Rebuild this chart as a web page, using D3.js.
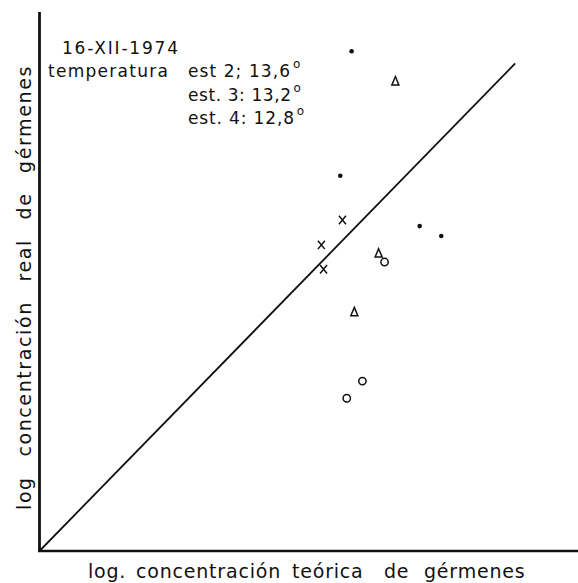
<!DOCTYPE html>
<html>
<head>
<meta charset="utf-8">
<script src="https://cdn.jsdelivr.net/npm/d3@7"></script>
<style>
  body { margin: 0; background: #fff; }
  text { font-family: "DejaVu Sans", sans-serif; fill: #111; }
</style>
</head>
<body>
<svg id="chart" width="578" height="583"></svg>
<script>
// points, in log units
var dotPts = [[5.78, 9.03], [5.57, 6.78], [7.04, 5.87], [7.44, 5.69]];
var triPts = [[6.59, 8.49], [6.28, 5.38], [5.83, 4.32]];
var crossPts = [[5.61, 5.98], [5.22, 5.53], [5.26, 5.09]];
var circPts = [[6.39, 5.22], [5.98, 3.07], [5.69, 2.76]];
var diagEnd = 8.81;
var noteLines = ["16-XII-1974", "temperatura", "est 2; 13,6", "est. 3: 13,2", "est. 4: 12,8"];
var xLabelWords = ["log.", "concentración", "teórica", "de", "gérmenes"];
var yLabel = "log concentración real de gérmenes";

var svg = d3.select("#chart");
var x = d3.scaleLinear().domain([0, 10]).range([39.5, 579.5]);
var y = d3.scaleLinear().domain([0, 10]).range([551, -2.5]);

// axes (plain lines, no ticks)
svg.append("line").attr("x1", x(0)).attr("y1", y(0) + 1).attr("x2", x(0)).attr("y2", y(9.74))
  .attr("stroke", "#111").attr("stroke-width", 2.8);
svg.append("line").attr("x1", x(0) - 1.4).attr("y1", y(0)).attr("x2", x(10)).attr("y2", y(0))
  .attr("stroke", "#111").attr("stroke-width", 2.6);

// 1:1 line
svg.append("path").attr("d", d3.line().x(function(d) { return x(d); }).y(function(d) { return y(d); })([0, diagEnd]))
  .attr("stroke", "#111").attr("stroke-width", 1.8).attr("fill", "none");

// markers
svg.selectAll(".dot").data(dotPts).enter().append("circle").attr("class", "dot")
  .attr("cx", function(d) { return x(d[0]); }).attr("cy", function(d) { return y(d[1]); })
  .attr("r", 2.3).attr("fill", "#111");

svg.selectAll(".circ").data(circPts).enter().append("circle").attr("class", "circ")
  .attr("cx", function(d) { return x(d[0]); }).attr("cy", function(d) { return y(d[1]); })
  .attr("r", 3.7).attr("fill", "none").attr("stroke", "#111").attr("stroke-width", 1.5);

svg.selectAll(".tri").data(triPts).enter().append("path").attr("class", "tri")
  .attr("transform", function(d) { return "translate(" + x(d[0]) + "," + y(d[1]) + ")"; })
  .attr("d", "M0,-4.5L3.5,3.8L-3.5,3.8Z")
  .attr("fill", "none").attr("stroke", "#111").attr("stroke-width", 1.5);

svg.selectAll(".cross").data(crossPts).enter().append("path").attr("class", "cross")
  .attr("transform", function(d) { return "translate(" + x(d[0]) + "," + y(d[1]) + ")"; })
  .attr("d", "M-3.5,-4.2L3.5,4.2M3.5,-4.2L-3.5,4.2")
  .attr("fill", "none").attr("stroke", "#111").attr("stroke-width", 1.5);

// annotation
var note = svg.append("g").attr("font-size", 17);
note.append("text").attr("x", 62).attr("y", 54).attr("textLength", 116)
  .attr("lengthAdjust", "spacing").text(noteLines[0]);
note.append("text").attr("x", 48).attr("y", 77).attr("textLength", 120)
  .attr("lengthAdjust", "spacing").text(noteLines[1]);
var ends = [290, 291, 294];
[2, 3, 4].forEach(function(i, k) {
  var t = note.append("text").attr("x", 188).attr("y", 77 + k * 23.5);
  t.append("tspan").attr("textLength", ends[k] - 188).attr("lengthAdjust", "spacing").text(noteLines[i]);
  t.append("tspan").attr("dx", 2).attr("dy", -9).attr("font-size", 12).text("o");
});

// axis titles (the original has wide, uneven word gaps)
var xWordX = [88, 136, 292, 384, 424];
var xl = svg.append("text").attr("y", 578).attr("font-size", 19).attr("letter-spacing", 0.8);
xLabelWords.forEach(function(w, i) {
  xl.append("tspan").attr("x", xWordX[i]).text(w);
});
svg.append("text").attr("transform", "translate(31,510) rotate(-90)")
  .attr("font-size", 19).attr("letter-spacing", 1.6).attr("word-spacing", 12)
  .text(yLabel);
</script>
</body>
</html>
